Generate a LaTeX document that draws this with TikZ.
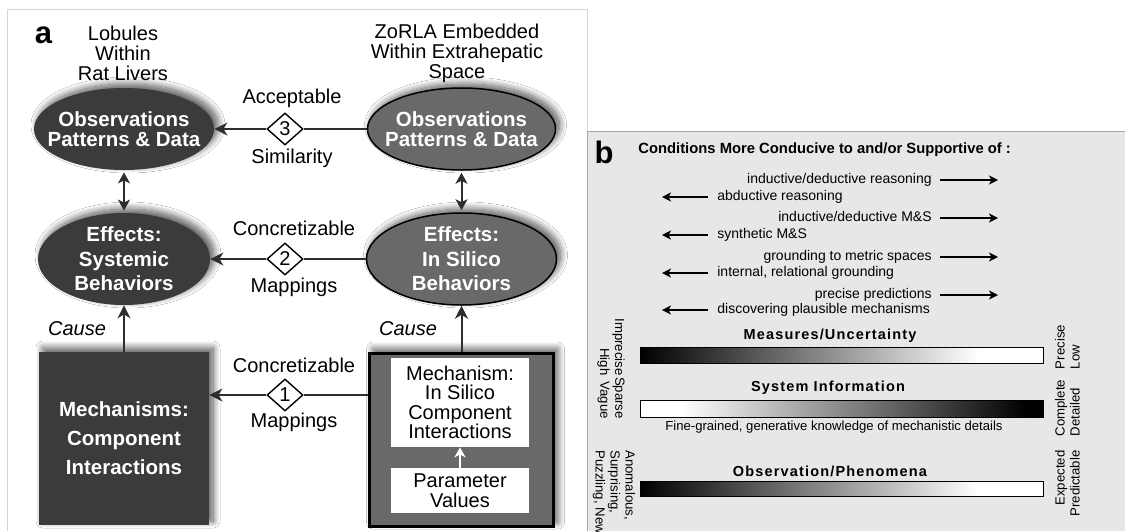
\documentclass[tikz,border=0pt]{standalone}
\usepackage{fontspec}
\setmainfont{Liberation Sans}
\usetikzlibrary{shapes.geometric,arrows.meta,shadows.blur}

\definecolor{darkfill}{HTML}{3B3B3B}
\definecolor{midfill}{HTML}{696969}
\definecolor{arrowgray}{HTML}{2E2E2E}
\definecolor{panelgray}{HTML}{E7E7E7}
\definecolor{framegray}{HTML}{D4D4D4}
\definecolor{edgegray}{HTML}{A8A8A8}

\pgfdeclarehorizontalshading{darktolight}{100bp}{color(0bp)=(black); color(25bp)=(black); color(67bp)=(white); color(100bp)=(white)}
\pgfdeclarehorizontalshading{lighttodark}{100bp}{color(0bp)=(white); color(30bp)=(white); color(73bp)=(black); color(100bp)=(black)}

\tikzset{every picture/.style={line width=0.75pt}}
\tikzset{
  bigtip/.tip={Stealth[length=13pt,width=13pt,inset=4pt]},
  smalltip/.tip={Stealth[length=11pt,width=12pt,inset=3pt]},
  thintip/.tip={Stealth[length=9pt,width=9pt,inset=2.5pt]},
  softshadow/.style={blur shadow={shadow xshift=4pt,shadow yshift=4pt,shadow blur radius=7pt,shadow blur steps=14,shadow opacity=68}},
  darkoval/.style={ellipse, fill=darkfill, text=white, align=center, inner xsep=-20pt, inner ysep=-14pt, softshadow},
  greyoval/.style={ellipse, draw=black, line width=1.5pt, fill=midfill, text=white, align=center, inner xsep=-20pt, inner ysep=-14pt, softshadow},
  obsfont/.style={font=\bfseries\fontsize{20.5}{20}\selectfont},
  efffont/.style={font=\bfseries\fontsize{20.5}{24.5}\selectfont},
  darkbox/.style={rectangle, fill=darkfill, text=white, align=center, inner sep=0pt, font=\bfseries\fontsize{20.5}{29}\selectfont, softshadow},
  greybox/.style={rectangle, draw=black, line width=3pt, fill=midfill, inner sep=0pt, softshadow},
  whitebox/.style={rectangle, fill=white, align=center, inner sep=0pt, minimum width=138pt, font=\fontsize{20}{19.5}\selectfont},
  numdiamond/.style={diamond, draw=black, fill=white, line width=1.4pt, inner sep=0pt, minimum width=36pt, minimum height=32pt, font=\fontsize{20}{20}\selectfont},
  headtext/.style={align=center, inner sep=0pt, font=\fontsize{20}{20}\selectfont},
  arrowlabel/.style={inner sep=0pt, text height=15pt, text depth=4pt, font=\fontsize{20}{22}\selectfont},
  paneltag/.style={inner sep=0pt, font=\bfseries\fontsize{31}{31}\selectfont},
  linkline/.style={draw=arrowgray, line width=2pt},
  btxt/.style={inner sep=0pt, text height=10.5pt, text depth=3pt, font=\fontsize{14}{15}\selectfont},
  barrow/.style={draw=black, line width=1.3pt, -thintip},
  bartitle/.style={inner sep=0pt, font=\bfseries\fontsize{14.5}{16}\selectfont\addfontfeatures{LetterSpace=8}},
  barbox/.style={rectangle, draw=black, line width=0.8pt, inner sep=0pt, minimum width=403pt, minimum height=16pt, shade},
  sidetext/.style={inner sep=0pt, align=center, font=\fontsize{13.2}{15}\selectfont}
}

\begin{document}
\begin{tikzpicture}[x=1pt,y=1pt,yscale=-1]
	\useasboundingbox (0,0) rectangle (1125,531);
	\fill[white] (0,0) rectangle (1125,531);
	
	%Panel frames
	\draw[framegray, line width=1pt] (7,531) -- (7,9) -- (587,9) -- (587,131);
	\fill[panelgray] (587,131) rectangle (1125,531);
	\draw[edgegray, line width=1pt] (587,531) -- (587,131) -- (1125,131);
	
	% Text Node
	\node[paneltag] (taga) at (43.5,35) {a};
	% Text Node
	\node[headtext] (lobules) at (123,53) {Lobules\\Within\\Rat Livers};
	% Text Node
	\node[headtext] (zorla) at (457,53) {ZoRLA Embedded\\Within Extrahepatic\\Space};
	
	%Ellipses
	\node[darkoval, obsfont, minimum width=180pt, minimum height=82pt] (obsL) at (124,129) {Observations\\Patterns \& Data};
	\node[greyoval, obsfont, minimum width=188pt, minimum height=82pt] (obsR) at (461.5,129) {Observations\\Patterns \& Data};
	\node[darkoval, efffont, minimum width=172pt, minimum height=92pt] (effL) at (124,259) {Effects:\\Systemic\\Behaviors};
	\node[greyoval, efffont, minimum width=190pt, minimum height=92pt] (effR) at (461.5,259) {Effects:\\In Silico\\Behaviors};
	
	%Boxes
	\node[darkbox, minimum width=170pt, minimum height=173pt] (mechL) at (124,438.5) {Mechanisms:\\Component\\Interactions};
	\node[greybox, minimum width=184pt, minimum height=173pt] (mechR) at (461.5,439.5) {};
	\node[whitebox, minimum height=89pt] (mechIn) at (460,402.5) {Mechanism:\\In Silico\\Component\\Interactions};
	\node[whitebox, minimum height=45pt, font=\fontsize{20}{20}\selectfont] (params) at (460,490.5) {Parameter\\Values};
	
	%Diamonds
	\node[numdiamond] (d3) at (285,129) {3};
	\node[numdiamond] (d2) at (285,259) {2};
	\node[numdiamond] (d1) at (285,395) {1};
	
	% Text Node
	\node[arrowlabel] (accept) at (292,98) {Acceptable};
	\node[arrowlabel] (simil) at (292,158) {Similarity};
	\node[arrowlabel] (concrB) at (294,230) {Concretizable};
	\node[arrowlabel] (mappB) at (294,287) {Mappings};
	\node[arrowlabel] (concrA) at (294,367) {Concretizable};
	\node[arrowlabel] (mappA) at (294,422) {Mappings};
	\node[arrowlabel, font=\itshape\fontsize{20}{22}\selectfont] (causeL) at (77,330) {Cause};
	\node[arrowlabel, font=\itshape\fontsize{20}{22}\selectfont] (causeR) at (408,330) {Cause};
	
	%Connectors
	\draw[linkline] (obsR) -- (d3);
	\draw[linkline, -bigtip] (d3) -- (obsL);
	\draw[linkline] (effR) -- (d2);
	\draw[linkline, -bigtip] (d2) -- (effL);
	\draw[linkline] (mechR.west |- d1) -- (d1);
	\draw[linkline, -bigtip] (d1) -- (mechL.east |- d1);
	\draw[linkline, smalltip-smalltip, shorten <=2pt, shorten >=2pt] (obsL) -- (effL);
	\draw[linkline, smalltip-smalltip, shorten <=2pt, shorten >=2pt] (obsR) -- (effR);
	\draw[linkline, -bigtip] (mechL) -- (effL);
	\draw[linkline, -bigtip] (mechR) -- (effR);
	\draw[white, line width=2pt, -{Stealth[length=10pt,width=11pt,inset=3pt]}] (params) -- (mechIn);
	
	% Text Node
	\node[paneltag] (tagb) at (604,152) {b};
	% Text Node
	\node[anchor=west, inner sep=0pt, font=\bfseries\fontsize{14.8}{16}\selectfont] (cond) at (638,150) {Conditions More Conducive to and/or Supportive of :};
	
	%Arrow rows
	\node[btxt, anchor=east] (indA) at (932,180) {inductive/deductive reasoning};
	\node[btxt, anchor=west] (abdA) at (717,197) {abductive reasoning};
	\node[btxt, anchor=east] (indB) at (932,218) {inductive/deductive M\&S};
	\node[btxt, anchor=west] (synB) at (717,235) {synthetic M\&S};
	\node[btxt, anchor=east] (grdC) at (932,257) {grounding to metric spaces};
	\node[btxt, anchor=west] (intC) at (717,273) {internal, relational grounding};
	\node[btxt, anchor=east] (preD) at (932,295) {precise predictions};
	\node[btxt, anchor=west] (disD) at (717,310) {discovering plausible mechanisms};
	\coordinate (rA) at (998,180);
	\coordinate (lA) at (662,197);
	\coordinate (rB) at (998,218);
	\coordinate (lB) at (662,235);
	\coordinate (rC) at (998,257);
	\coordinate (lC) at (662,273);
	\coordinate (rD) at (998,295);
	\coordinate (lD) at (662,310);
	\draw[barrow, shorten <=8pt] (indA.east) -- (rA);
	\draw[barrow, shorten <=9pt] (abdA.west) -- (lA);
	\draw[barrow, shorten <=8pt] (indB.east) -- (rB);
	\draw[barrow, shorten <=9pt] (synB.west) -- (lB);
	\draw[barrow, shorten <=8pt] (grdC.east) -- (rC);
	\draw[barrow, shorten <=9pt] (intC.west) -- (lC);
	\draw[barrow, shorten <=8pt] (preD.east) -- (rD);
	\draw[barrow, shorten <=9pt] (disD.west) -- (lD);
	
	%Bars
	\node[bartitle] (tMeas) at (830,336) {Measures/Uncertainty};
	\node[barbox, shading=darktolight] (barMeas) at (841.5,355) {};
	\node[bartitle] (tSys) at (828,388) {System Information};
	\node[barbox, shading=lighttodark, minimum height=17pt] (barSys) at (841.5,408.5) {};
	\node[btxt, font=\fontsize{13.1}{15}\selectfont] (capSys) at (834,427) {Fine-grained, generative knowledge of mechanistic details};
	\node[bartitle] (tObs) at (830,471) {Observation/Phenomena};
	\node[barbox, shading=darktolight, minimum height=15pt] (barObs) at (841.5,489) {};
	
	%Side labels
	\node[sidetext, rotate=-90, align=right] (imprec) at (611,347) {Imprecise\\High};
	\node[sidetext, rotate=-90, align=right] (sparse) at (611,398) {Sparse\\Vague};
	\node[sidetext, rotate=-90, align=left, anchor=west] (anomal) at (614,450) {Anomalous,\\Surprising,\\Puzzling, New};
	\node[sidetext, rotate=90, align=left] (precis) at (1067.5,347) {Precise\\Low};
	\node[sidetext, rotate=90, align=left] (complt) at (1067.5,408) {Complete\\Detailed};
	\node[sidetext, rotate=90, align=right, anchor=east] (expect) at (1067.5,450) {Expected\\Predictable};
	
\end{tikzpicture}
\end{document}
